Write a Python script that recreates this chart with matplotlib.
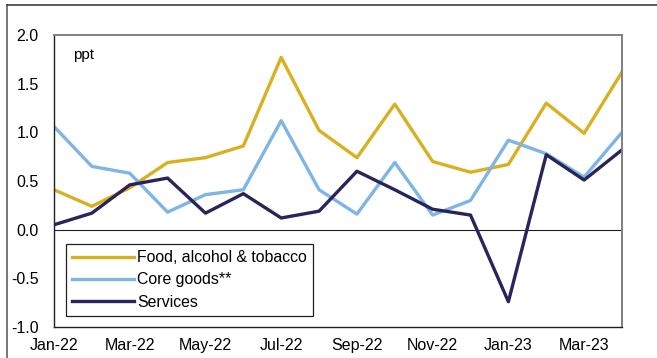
import matplotlib.pyplot as plt
from matplotlib.lines import Line2D
import numpy as np

months = ['Jan-22', 'Feb-22', 'Mar-22', 'Apr-22', 'May-22', 'Jun-22', 'Jul-22', 'Aug-22',
          'Sep-22', 'Oct-22', 'Nov-22', 'Dec-22', 'Jan-23', 'Feb-23', 'Mar-23', 'Apr-23']
food = [0.41, 0.24, 0.43, 0.69, 0.74, 0.86, 1.77, 1.02,
        0.74, 1.29, 0.70, 0.59, 0.67, 1.30, 0.99, 1.62]
core_goods = [1.06, 0.65, 0.58, 0.18, 0.36, 0.41, 1.12, 0.41,
              0.16, 0.69, 0.15, 0.30, 0.92, 0.78, 0.54, 1.00]
services = [0.05, 0.17, 0.46, 0.53, 0.17, 0.37, 0.12, 0.19,
            0.60, 0.41, 0.21, 0.15, -0.74, 0.77, 0.51, 0.82]

plt.rcParams['font.family'] = ['Liberation Sans', 'DejaVu Sans']

fig = plt.figure(figsize=(6.57, 3.58), dpi=100)
ax = fig.add_axes([0.0822, 0.0866, 0.8645, 0.8156])

x = np.arange(len(months))
ax.plot(x, food, color='#D8B020', lw=2.4, label='Food, alcohol & tobacco')
ax.plot(x, core_goods, color='#7EB5E5', lw=2.4, label='Core goods**')
ax.plot(x, services, color='#29245A', lw=2.4, label='Services')
ax.axhline(0, color='#202020', lw=0.8, zorder=1)

ax.set_xlim(0, len(months) - 1)
ax.set_ylim(-1.0, 2.0)
ax.set_xticks(x[::2])
ax.set_xticklabels(months[::2])
ax.set_yticks(np.arange(-1.0, 2.01, 0.5))
ax.set_yticklabels(['%.1f' % v for v in np.arange(-1.0, 2.01, 0.5)])
ax.tick_params(length=0, labelsize=11.5, pad=8)
ax.tick_params(axis='y', pad=11)

for s in ['top', 'right']:
    ax.spines[s].set_color('#808080')
    ax.spines[s].set_linewidth(1.4)
for s in ['left', 'bottom']:
    ax.spines[s].set_color('#202020')
    ax.spines[s].set_linewidth(1.0)

ax.text(0.033, 0.93, 'ppt', transform=ax.transAxes, fontsize=11, va='center')

leg = ax.legend(loc='lower left', bbox_to_anchor=(0.021, 0.038), borderaxespad=0,
                fontsize=11.4, handlelength=3.9, handletextpad=0.2, labelspacing=0.45,
                borderpad=0.4, fancybox=False, framealpha=1)
leg.get_frame().set_edgecolor('#202020')
leg.get_frame().set_linewidth(0.9)

# outer frame of the figure panel
fig.add_artist(Line2D([7 / 657, 7 / 657], [0, 1 - 5 / 358], color='#606060', lw=1.2,
                      transform=fig.transFigure))
fig.add_artist(Line2D([7 / 657, 1], [1 - 5 / 358, 1 - 5 / 358], color='#404040', lw=1.2,
                      transform=fig.transFigure))

fig.savefig('out.png', dpi=100)
